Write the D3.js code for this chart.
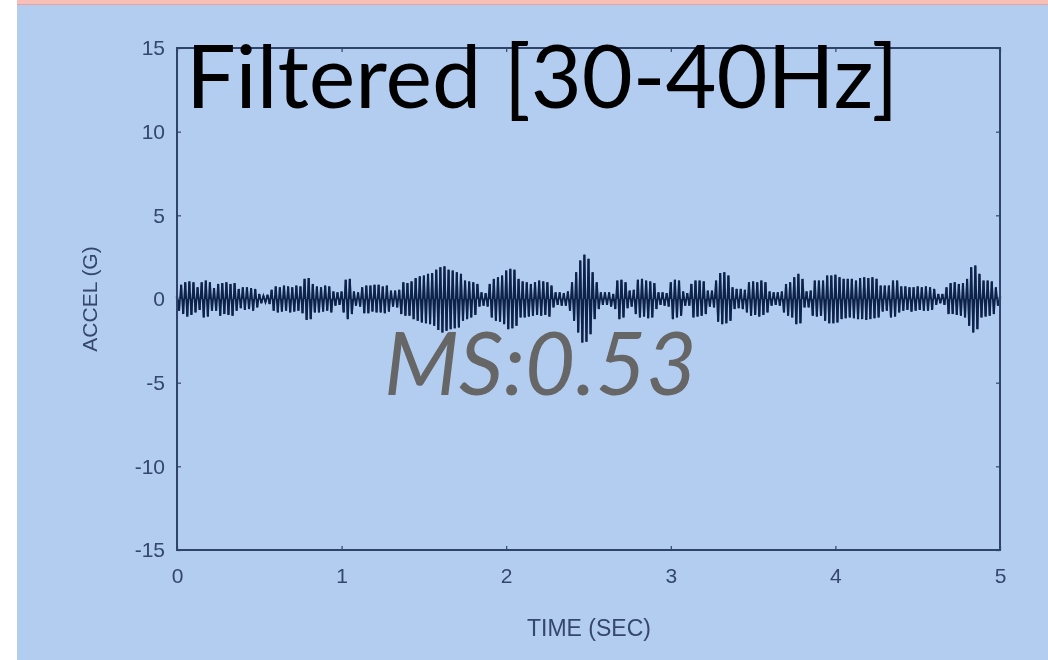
<!DOCTYPE html>
<html>
<head>
<meta charset="utf-8">
<script src="https://cdn.jsdelivr.net/npm/d3@7"></script>
<style>
  html, body { margin: 0; padding: 0; background: #ffffff; }
  svg { display: block; }
</style>
</head>
<body>
<svg id="chart" width="1048" height="660"></svg>
<script>
// Filtered acceleration record, sampled every 0.0125 s from 0 to 5 s (units: G)
// one row = 0.2 s
const sampleStep = 0.0125;
const accel = [
  0.2, -0.7, 0.85, -0.9, 1.0, -1.05, 1.05, -0.95, 1.0, -0.8, 0.7, -0.65, 1.0, -1.1, 1.1, -1.05,
  1.0, -0.7, 0.65, -0.7, 0.9, -1.0, 0.95, -0.9, 1.0, -0.95, 0.9, -1.0, 0.95, -0.7, 0.6, -0.55,
  0.7, -0.65, 0.7, -0.6, 0.65, -0.7, 0.6, -0.5, 0.3, -0.25, 0.2, -0.2, 0.25, -0.3, 0.55, -0.7,
  0.75, -0.8, 0.7, -0.75, 0.8, -0.7, 0.75, -0.8, 0.7, -0.75, 0.8, -0.7, 0.75, -0.85, 1.2, -1.25,
  1.25, -1.2, 0.9, -0.8, 0.75, -0.8, 0.7, -0.75, 0.8, -0.7, 0.75, -0.8, 0.45, -0.4, 0.4, -0.35,
  0.45, -0.8, 1.15, -1.2, 1.2, -0.9, 0.45, -0.4, 0.4, -0.45, 0.7, -0.85, 0.8, -0.85, 0.8, -0.75,
  0.85, -0.8, 0.85, -0.8, 0.75, -0.85, 0.8, -0.75, 0.5, -0.45, 0.5, -0.5, 0.55, -0.9, 1.0, -1.0,
  0.95, -1.0, 1.05, -1.2, 1.25, -1.3, 1.35, -1.4, 1.4, -1.45, 1.5, -1.5, 1.55, -1.6, 1.75, -1.85,
  1.9, -2.0, 1.95, -1.9, 1.75, -1.8, 1.7, -1.75, 1.6, -1.7, 1.5, -1.3, 1.1, -1.2, 1.05, -1.1,
  1.0, -0.95, 0.9, -0.45, 0.4, -0.4, 0.35, -0.45, 0.9, -1.1, 1.2, -1.3, 1.3, -1.35, 1.4, -1.5,
  1.7, -1.8, 1.8, -1.75, 1.75, -1.6, 1.2, -1.1, 1.05, -1.1, 1.0, -1.05, 0.9, -1.0, 1.0, -0.95,
  1.1, -1.0, 1.05, -0.95, 1.0, -1.05, 0.8, -0.5, 0.4, -0.35, 0.4, -0.4, 0.35, -0.4, 0.45, -0.7,
  1.0, -1.3, 1.6, -2.0, 2.3, -2.6, 2.65, -2.55, 2.4, -2.1, 1.6, -1.2, 1.0, -0.6, 0.4, -0.35,
  0.4, -0.35, 0.4, -0.45, 0.3, -0.6, 1.1, -1.2, 1.15, -1.1, 1.0, -0.55, 0.5, -0.45, 0.55, -0.9,
  1.15, -1.1, 1.2, -1.05, 1.1, -1.15, 1.05, -1.1, 0.95, -0.6, 0.4, -0.35, 0.4, -0.4, 0.35, -0.45,
  1.0, -1.2, 1.15, -1.1, 1.1, -1.0, 0.45, -0.4, 0.35, -0.4, 0.9, -1.1, 1.1, -1.05, 1.1, -1.0,
  1.05, -0.9, 0.5, -0.45, 0.5, -0.5, 1.1, -1.35, 1.55, -1.5, 1.6, -1.45, 1.4, -1.3, 0.7, -0.6,
  0.6, -0.55, 0.6, -0.6, 0.55, -0.8, 1.0, -1.0, 1.05, -0.95, 1.0, -1.05, 1.1, -0.95, 1.0, -0.8,
  0.45, -0.4, 0.4, -0.35, 0.4, -0.4, 0.45, -0.8, 0.9, -1.0, 1.0, -1.1, 1.3, -1.5, 1.5, -1.45,
  1.2, -0.5, 0.45, -0.5, 0.5, -1.0, 1.1, -1.05, 1.1, -1.0, 1.1, -1.3, 1.4, -1.45, 1.4, -1.45,
  1.45, -1.4, 1.3, -1.2, 1.2, -1.15, 1.2, -1.1, 1.2, -1.15, 1.1, -1.2, 1.25, -1.2, 1.3, -1.25,
  1.25, -1.2, 1.3, -1.15, 1.2, -1.1, 0.8, -0.75, 0.8, -0.7, 0.8, -1.1, 1.1, -1.05, 1.1, -0.8,
  0.75, -0.7, 0.75, -0.65, 0.7, -0.75, 0.7, -0.7, 0.75, -0.65, 0.7, -0.7, 0.75, -0.7, 0.7, -0.65,
  0.6, -0.35, 0.3, -0.25, 0.3, -0.35, 0.7, -0.9, 0.95, -0.9, 1.0, -0.95, 0.9, -1.0, 0.95, -1.1,
  1.2, -1.6, 1.9, -2.0, 2.0, -1.8, 1.5, -1.1, 1.1, -1.05, 1.1, -1.0, 1.05, -0.9, 0.7, -0.4,
  0.2
];

const xTicks = [0, 1, 2, 3, 4, 5];
const yTicks = [-15, -10, -5, 0, 5, 10, 15];
const xDomain = [0, 5];
const yDomain = [-15, 15];

const titleText = "Filtered [30-40Hz]";
const noteText = "MS:0.53";
const xLabel = "TIME (SEC)";
const yLabel = "ACCEL (G)";

const W = 1048, H = 660;
const plot = { left: 177, right: 1000, top: 48, bottom: 550 };

const svg = d3.select("#chart");

// soft edge for the plotted trace and axis text
const defs = svg.append("defs");
defs.append("filter").attr("id", "soft")
  .attr("x", "-5%").attr("y", "-50%").attr("width", "110%").attr("height", "200%")
  .append("feGaussianBlur").attr("stdDeviation", 0.7);
defs.append("filter").attr("id", "softText")
  .attr("x", "-20%").attr("y", "-20%").attr("width", "140%").attr("height", "140%")
  .append("feGaussianBlur").attr("stdDeviation", 0.5);

// slide background
svg.append("rect").attr("x", 0).attr("y", 0).attr("width", W).attr("height", H).attr("fill", "#ffffff");
svg.append("rect").attr("x", 17).attr("y", 4).attr("width", W - 17).attr("height", H - 4).attr("fill", "#b3cdf1");
svg.append("rect").attr("x", 17).attr("y", 0).attr("width", W - 17).attr("height", 4).attr("fill", "#f7bfb8");
svg.append("line").attr("x1", 17).attr("x2", W).attr("y1", 4.5).attr("y2", 4.5)
  .attr("stroke", "#e3a3a3").attr("stroke-width", 1);

const x = d3.scaleLinear().domain(xDomain).range([plot.left, plot.right]);
const y = d3.scaleLinear().domain(yDomain).range([plot.bottom, plot.top]);

const axisColor = "#30446a";
const labelColor = "#34476a";
const traceColor = "#0f244a";
const tickFmt = d => String(d);
const axisFont = "'Liberation Sans', Arial, sans-serif";

// signal trace: sample stems plus connecting line
const trace = svg.append("g").attr("filter", "url(#soft)");

trace.selectAll("line.stem")
  .data(accel)
  .join("line")
  .attr("class", "stem")
  .attr("x1", (d, i) => x(i * sampleStep))
  .attr("x2", (d, i) => x(i * sampleStep))
  .attr("y1", y(0))
  .attr("y2", d => y(d))
  .attr("stroke", traceColor)
  .attr("stroke-width", 2.2);

const line = d3.line()
  .x((d, i) => x(i * sampleStep))
  .y(d => y(d));

trace.append("path")
  .datum(accel)
  .attr("fill", "none")
  .attr("stroke", traceColor)
  .attr("stroke-width", 1.8)
  .attr("d", line);

// frame with inward ticks on all four sides
function styleAxis(g) {
  g.selectAll(".domain").remove();
  g.selectAll(".tick line").attr("stroke", axisColor).attr("stroke-width", 1.2);
  g.selectAll(".tick text")
    .attr("fill", labelColor)
    .attr("font-family", axisFont)
    .attr("font-size", 21)
    .attr("filter", "url(#softText)");
}

svg.append("g")
  .attr("transform", `translate(0,${plot.bottom})`)
  .call(d3.axisBottom(x).tickValues(xTicks).tickFormat(tickFmt).tickSizeInner(-4).tickPadding(18))
  .call(styleAxis);

svg.append("g")
  .attr("transform", `translate(0,${plot.top})`)
  .call(d3.axisTop(x).tickValues(xTicks).tickFormat("").tickSizeInner(-4))
  .call(styleAxis);

svg.append("g")
  .attr("transform", `translate(${plot.left},0)`)
  .call(d3.axisLeft(y).tickValues(yTicks).tickFormat(tickFmt).tickSizeInner(-4).tickPadding(12))
  .call(styleAxis);

svg.append("g")
  .attr("transform", `translate(${plot.right},0)`)
  .call(d3.axisRight(y).tickValues(yTicks).tickFormat("").tickSizeInner(-4))
  .call(styleAxis);

svg.append("rect")
  .attr("x", plot.left).attr("y", plot.top)
  .attr("width", plot.right - plot.left).attr("height", plot.bottom - plot.top)
  .attr("fill", "none").attr("stroke", axisColor).attr("stroke-width", 2);

// axis titles
svg.append("text")
  .attr("x", 589)
  .attr("y", 636)
  .attr("text-anchor", "middle")
  .attr("fill", labelColor)
  .attr("font-family", axisFont)
  .attr("font-size", 23)
  .attr("filter", "url(#softText)")
  .text(xLabel);

svg.append("text")
  .attr("transform", `translate(97,${(plot.top + plot.bottom) / 2}) rotate(-90)`)
  .attr("text-anchor", "middle")
  .attr("fill", labelColor)
  .attr("font-family", axisFont)
  .attr("font-size", 21)
  .attr("filter", "url(#softText)")
  .text(yLabel);

// slide title over the plot
svg.append("text")
  .attr("x", 186)
  .attr("y", 108)
  .attr("fill", "#000000")
  .attr("font-family", "Lato, 'Open Sans', sans-serif")
  .attr("font-size", 88)
  .text(titleText);

// mean-square annotation
svg.append("text")
  .attr("x", 384)
  .attr("y", 395)
  .attr("fill", "#666666")
  .attr("font-family", "Lato, 'Open Sans', sans-serif")
  .attr("font-style", "italic")
  .attr("font-size", 87)
  .text(noteText);
</script>
</body>
</html>
